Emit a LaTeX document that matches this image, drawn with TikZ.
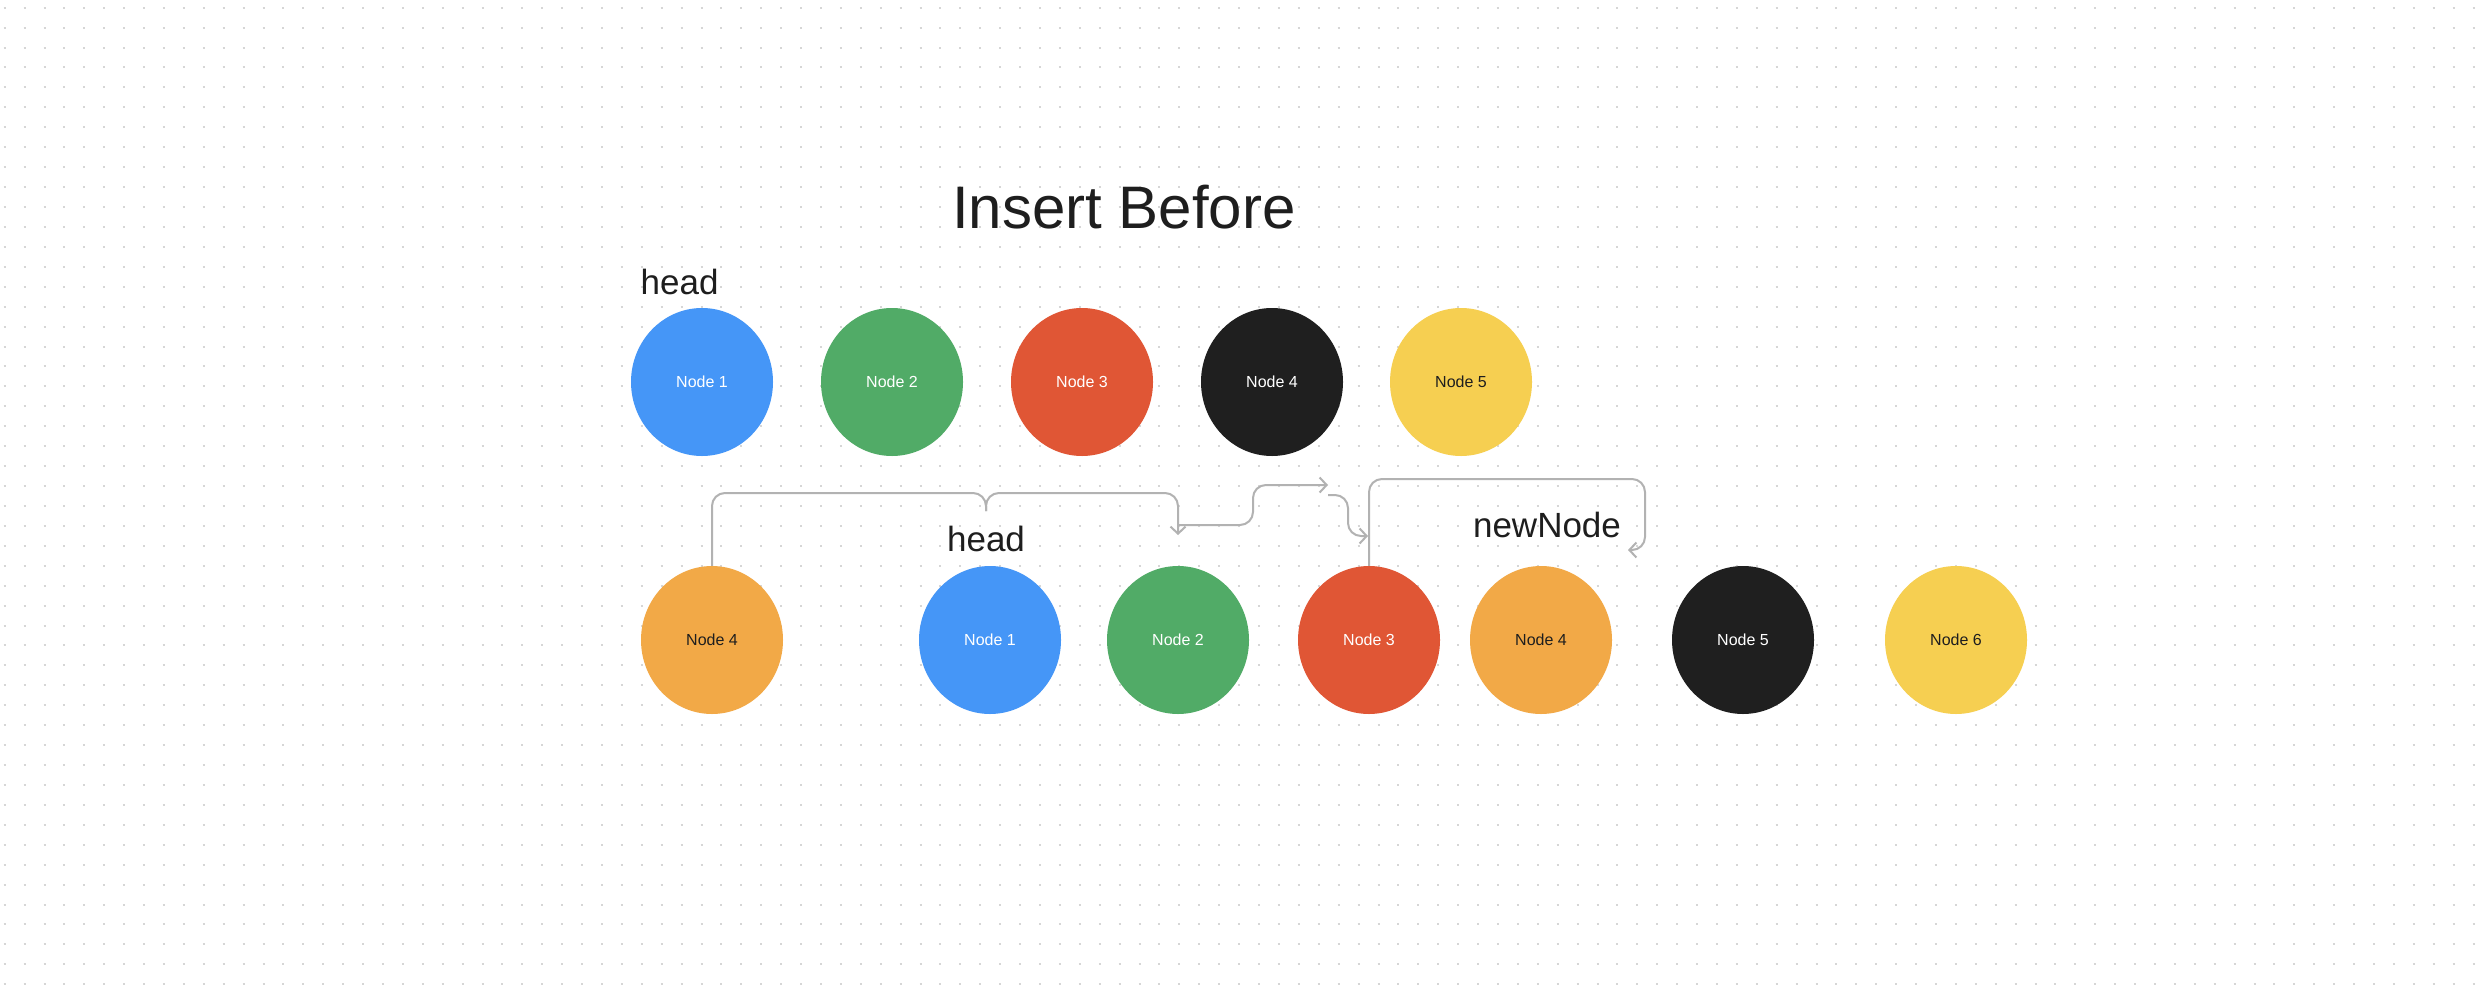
\documentclass[tikz,border=0pt]{standalone}
\usepackage{fontspec}
\setmainfont{Liberation Sans}
\usetikzlibrary{shapes.geometric,arrows.meta}

\definecolor{nblue}{HTML}{4596F7}
\definecolor{ngreen}{HTML}{51AB67}
\definecolor{nred}{HTML}{E05635}
\definecolor{nblack}{HTML}{1F1F1F}
\definecolor{nyellow}{HTML}{F6CF51}
\definecolor{norange}{HTML}{F2A947}
\definecolor{ink}{HTML}{1E1E1E}
\definecolor{linkgray}{HTML}{B2B2B2}
\definecolor{dotgray}{HTML}{D6D6D6}

\begin{document}
\begin{tikzpicture}[x=1pt,y=-1pt,
  listnode/.style={ellipse, minimum width=142pt, minimum height=148pt,
    inner sep=0pt, font=\fontsize{16}{16}\selectfont},
  onlight/.style={listnode, fill=#1, text=ink},
  ondark/.style={listnode, fill=#1, text=white},
  caption/.style={anchor=base, inner sep=0pt, text=ink,
    font=\fontsize{35}{35}\selectfont},
  link/.style={draw=linkgray, line width=2pt, rounded corners=13pt},
  arrowend/.style={-{Straight Barb[length=7pt,width=15pt]}},
  dotrow/.style={draw=dotgray, line width=2pt,
    dash pattern=on 2pt off 17.91pt}]

% canvas and dot grid
\fill[white] (0,0) rectangle (2484,1004);
\useasboundingbox (0,0) rectangle (2484,1004);
\foreach \j in {0,...,49}
  \draw[dotrow] (3.7,{7.7+19.93*\j}) -- (2484,{7.7+19.93*\j});

% title and labels
\node[caption, font=\fontsize{60}{60}\selectfont] (title) at (1124,228) {Insert Before};
\node[caption, anchor=base west] (headtop) at (640.5,294) {head};
\node[caption] (headbot) at (986,551) {head};
\node[caption] (newnode) at (1547,537) {newNode};

% original list
\node[ondark=nblue]    (t1) at (702,382)  {Node 1};
\node[ondark=ngreen]   (t2) at (892,382)  {Node 2};
\node[ondark=nred]     (t3) at (1082,382) {Node 3};
\node[ondark=nblack]   (t4) at (1272,382) {Node 4};
\node[onlight=nyellow] (t5) at (1461,382) {Node 5};

% list after insertion
\node[onlight=norange] (b0) at (712,640)  {Node 4};
\node[ondark=nblue]    (b1) at (990,640)  {Node 1};
\node[ondark=ngreen]   (b2) at (1178,640) {Node 2};
\node[ondark=nred]     (b3) at (1369,640) {Node 3};
\node[onlight=norange] (b4) at (1541,640) {Node 4};
\node[ondark=nblack]   (b5) at (1743,640) {Node 5};
\node[onlight=nyellow] (b6) at (1956,640) {Node 6};

% link end points
\coordinate (cusp) at (986,511);
\coordinate (b2in) at (1178,535);
\coordinate (c0) at (1178,525);
\coordinate (c1) at (1328,485);
\coordinate (d0) at (1328,495);
\coordinate (d1) at (1368,536);
\coordinate (e1) at (1628,550);

% links
\draw[link] (b0.north) -- (712,493) -- (986,493) -- (cusp);
\draw[link, arrowend] (cusp) -- (986,493) -- (1178,493) -- (b2in);
\draw[link, arrowend] (c0) -- (1253,525) -- (1253,485) -- (c1);
\draw[link, arrowend] (d0) -- (1348,495) -- (1348,536) -- (d1);
\draw[link, arrowend] (b3.north) -- (1369,479) -- (1645,479) -- (1645,550) -- (e1);
\end{tikzpicture}
\end{document}
